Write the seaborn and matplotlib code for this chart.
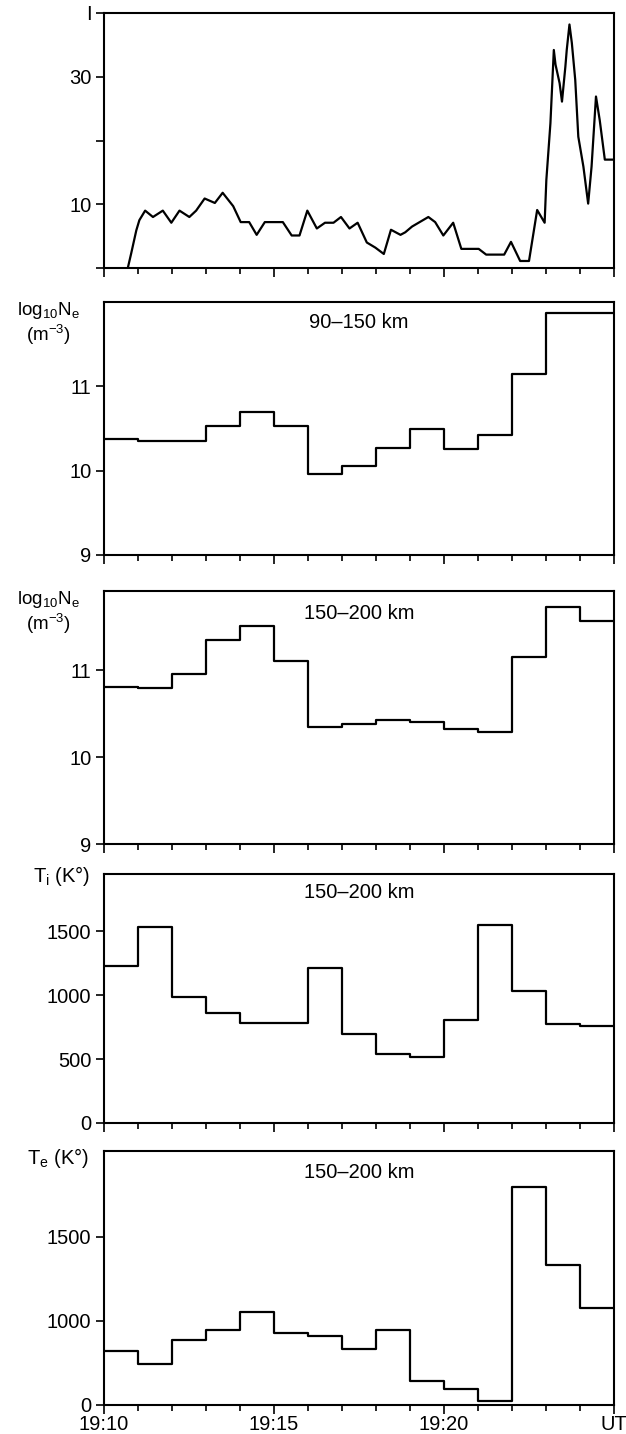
import numpy as np
import pandas as pd
import matplotlib
matplotlib.use("Agg")
import matplotlib.pyplot as plt
from matplotlib.ticker import MultipleLocator
import seaborn as sns

sns.set_style("ticks")
plt.rcParams['font.family'] = ['Liberation Sans', 'DejaVu Sans']
plt.rcParams['mathtext.fontset'] = 'custom'
plt.rcParams['mathtext.rm'] = 'Liberation Sans'
plt.rcParams['mathtext.it'] = 'Liberation Sans'
plt.rcParams['text.color'] = 'black'
plt.rcParams['xtick.color'] = 'black'
plt.rcParams['ytick.color'] = 'black'

# minutes after 19:10 UT
t_line = [0.70, 0.80, 0.95, 1.04, 1.21, 1.44, 1.73, 1.98, 2.22, 2.51, 2.71, 2.96,
          3.26, 3.49, 3.80, 4.02, 4.27, 4.49, 4.73, 5.26, 5.52, 5.75, 5.98, 6.26,
          6.50, 6.75, 6.97, 7.22, 7.46, 7.73, 7.98, 8.23, 8.44, 8.72, 8.86, 9.06,
          9.38, 9.54, 9.74, 9.98, 10.27, 10.51, 11.02, 11.24, 11.77, 11.97, 12.24,
          12.50, 12.74, 12.96, 13.01, 13.13, 13.23, 13.28, 13.40, 13.47, 13.57,
          13.61, 13.69, 13.76, 13.86, 13.95, 14.10, 14.24, 14.34, 14.47, 14.58,
          14.73, 15.00]
v_line = [0, 2.3, 5.9, 7.5, 9.0, 8.0, 9.0, 7.1, 9.0, 8.0, 9.0, 10.9,
          10.2, 11.8, 9.7, 7.2, 7.2, 5.2, 7.2, 7.2, 5.1, 5.1, 9.0, 6.2,
          7.1, 7.1, 8.0, 6.2, 7.1, 4.0, 3.2, 2.2, 6.0, 5.2, 5.6, 6.5,
          7.5, 8.0, 7.2, 5.1, 7.1, 3.0, 3.0, 2.1, 2.1, 4.1, 1.1,
          1.1, 9.1, 7.1, 13.8, 22.7, 34.2, 31.9, 29.0, 26.1, 31.6,
          34.2, 38.2, 35.3, 29.5, 20.6, 15.9, 10.1, 15.9, 26.9, 23.2,
          17.0, 17.0]

# one value per minute, 19:10 .. 19:24
ne_low = [10.37, 10.35, 10.35, 10.53, 10.70, 10.53, 9.96, 10.06, 10.27, 10.49,
          10.26, 10.42, 11.15, 11.87, 11.87]
ne_high = [10.81, 10.79, 10.95, 11.35, 11.51, 11.11, 10.34, 10.38, 10.43, 10.40,
           10.32, 10.29, 11.15, 11.73, 11.57]
ti = [1226, 1534, 988, 863, 780, 780, 1213, 694, 543, 514, 803, 1547, 1030, 772, 756]
te = [822, 742, 888, 946, 1052, 930, 908, 832, 948, 642, 594, 526, 1796, 1332, 1074]

x_ticks = [0, 5, 10, 15]
x_labels = ['19:10', '19:15', '19:20', 'UT']

fs = 14.5
fig = plt.figure(figsize=(6.26, 14.34), dpi=100)
L, W = 104 / 626, 510 / 626
H = 1434
boxes = [(13, 268), (302, 555), (591, 844), (874, 1123), (1151, 1405)]
axes = [fig.add_axes([L, 1 - b / H, W, (b - t) / H]) for t, b in boxes]

lw = 1.6
sns.lineplot(x=t_line, y=v_line, ax=axes[0], color='black', lw=lw, sort=False)


def steps(ax, vals):
    d = pd.DataFrame({'t': np.arange(len(vals) + 1), 'v': list(vals) + [vals[-1]]})
    sns.lineplot(data=d, x='t', y='v', ax=ax, color='black', lw=lw,
                 drawstyle='steps-post')


steps(axes[1], ne_low)
steps(axes[2], ne_high)
steps(axes[3], ti)
steps(axes[4], te)

for ax in axes:
    ax.set_xlim(0, 15)
    ax.xaxis.set_major_locator(MultipleLocator(5))
    ax.xaxis.set_minor_locator(MultipleLocator(1))
    ax.tick_params(axis='x', which='major', direction='out', length=6.5, width=1.2)
    ax.tick_params(axis='x', which='minor', direction='out', length=4.3, width=1.2)
    ax.tick_params(axis='y', direction='out', length=6, width=1.2, labelsize=fs, pad=3)
    ax.set_xticklabels([])
    ax.set_xlabel('')
    ax.set_ylabel('')
    for s in ax.spines.values():
        s.set_linewidth(1.5)
        s.set_color('black')

axes[0].set_ylim(0, 40)
axes[0].set_yticks([0, 10, 20, 30, 40])
axes[0].set_yticklabels(['', '10', '', '30', 'I'])

for ax, top in [(axes[1], 12), (axes[2], 11.91)]:
    ax.set_ylim(9, top)
    ax.set_yticks([9, 10, 11])
    ax.set_yticklabels(['9', '10', '11'])

axes[3].set_ylim(0, 1950)
axes[3].set_yticks([0, 500, 1000, 1500])
axes[3].set_yticklabels(['0', '500', '1000', '1500'])

axes[4].set_ylim(500, 2010)
axes[4].set_yticks([500, 1000, 1500])
axes[4].set_yticklabels(['0', '1000', '1500'])

axes[4].set_xticks(x_ticks)
axes[4].set_xticklabels(x_labels, fontsize=fs)
axes[4].tick_params(axis='x', which='major', pad=1)

for ax, txt, yy in [(axes[1], '90\u2013150 km', 0.917), (axes[2], '150\u2013200 km', 0.913),
                    (axes[3], '150\u2013200 km', 0.924), (axes[4], '150\u2013200 km', 0.917)]:
    ax.text(0.5, yy, txt, transform=ax.transAxes, ha='center', va='center', fontsize=fs)

ne_lab = '$\\mathrm{log_{10}N_e}$\n$\\mathrm{(m^{-3})}$'
fig.text(48 / 626, 1 - 300 / H, ne_lab, ha='center', va='top', fontsize=13.5, linespacing=1.1)
fig.text(48 / 626, 1 - 589 / H, ne_lab, ha='center', va='top', fontsize=13.5, linespacing=1.1)
fig.text(62 / 626, 1 - 876 / H, 'T$_\\mathrm{i}$ (K\u00b0)', ha='center', va='center', fontsize=fs)
fig.text(58 / 626, 1 - 1158 / H, 'T$_\\mathrm{e}$ (K\u00b0)', ha='center', va='center', fontsize=fs)

fig.savefig('out.png', dpi=100, facecolor='white')
